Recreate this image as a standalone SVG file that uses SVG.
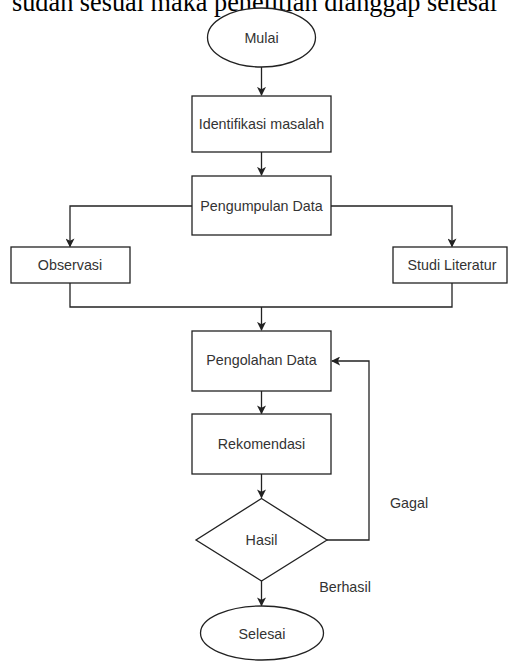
<svg xmlns="http://www.w3.org/2000/svg" width="508" height="661" viewBox="0 0 508 661">
<defs>
<style>
.shape{fill:#fff;stroke:#222;stroke-width:1.3}
.lbl{font-family:"Liberation Sans",Arial,sans-serif;font-size:14.3px;fill:#333;text-anchor:middle;dominant-baseline:central}
.edge{fill:none;stroke:#222;stroke-width:1.3}
.cap{font-family:"Liberation Serif","Times New Roman",serif;font-size:26.3px;fill:#000}
</style>
<marker id="arr" viewBox="0 0 10 10" refX="9" refY="5" markerWidth="9" markerHeight="9" markerUnits="userSpaceOnUse" orient="auto">
<path d="M0,0 L10,5 L0,10 L2.5,5 Z" fill="#222"/>
</marker>
</defs>
<rect width="508" height="661" fill="#fff"/>
<text class="cap" x="12" y="11" textLength="485" lengthAdjust="spacingAndGlyphs">sudah sesuai maka penelitian dianggap selesai</text>
<g id="connectors">
<path class="edge" d="M261.5,67 V95" marker-end="url(#arr)"/>
<path class="edge" d="M261.5,152 V175" marker-end="url(#arr)"/>
<path class="edge" d="M192,206 H70 V246.5" marker-end="url(#arr)"/>
<path class="edge" d="M331,206 H452 V246.5" marker-end="url(#arr)"/>
<path class="edge" d="M70,283 V307 H452 V283"/>
<path class="edge" d="M261.5,307 V330" marker-end="url(#arr)"/>
<path class="edge" d="M261.5,391 V413.5" marker-end="url(#arr)"/>
<path class="edge" d="M261.5,474 V497.5" marker-end="url(#arr)"/>
<path class="edge" d="M327,540 H369 V361 H332" marker-end="url(#arr)"/>
<path class="edge" d="M261.5,581 V605.5" marker-end="url(#arr)"/>
</g>
<g id="mulai"><ellipse class="shape" cx="261.5" cy="37.5" rx="54" ry="29.5"/><text class="lbl" x="261.5" y="37.5">Mulai</text></g>
<g id="identifikasi"><rect class="shape" x="192" y="96" width="139" height="56"/><text class="lbl" x="261.5" y="124">Identifikasi masalah</text></g>
<g id="pengumpulan"><rect class="shape" x="192" y="176" width="139" height="59"/><text class="lbl" x="261.5" y="205.5">Pengumpulan Data</text></g>
<g id="observasi"><rect class="shape" x="11" y="247" width="119" height="36"/><text class="lbl" x="70" y="265">Observasi</text></g>
<g id="studi"><rect class="shape" x="393" y="247" width="114" height="36"/><text class="lbl" x="452" y="265">Studi Literatur</text></g>
<g id="pengolahan"><rect class="shape" x="192" y="331" width="139" height="60"/><text class="lbl" x="261.5" y="360">Pengolahan Data</text></g>
<g id="rekomendasi"><rect class="shape" x="192" y="414" width="139" height="60"/><text class="lbl" x="261.5" y="443.5">Rekomendasi</text></g>
<g id="hasil"><path class="shape" d="M261.5,498.5 L327,540 L261.5,581 L196,540 Z"/><text class="lbl" x="261.5" y="540">Hasil</text></g>
<g id="selesai"><ellipse class="shape" cx="262" cy="633" rx="61.5" ry="27"/><text class="lbl" x="262" y="634">Selesai</text></g>
<g id="labels">
<text class="lbl" x="409" y="503">Gagal</text>
<text class="lbl" x="345" y="586.5">Berhasil</text>
</g>
</svg>
